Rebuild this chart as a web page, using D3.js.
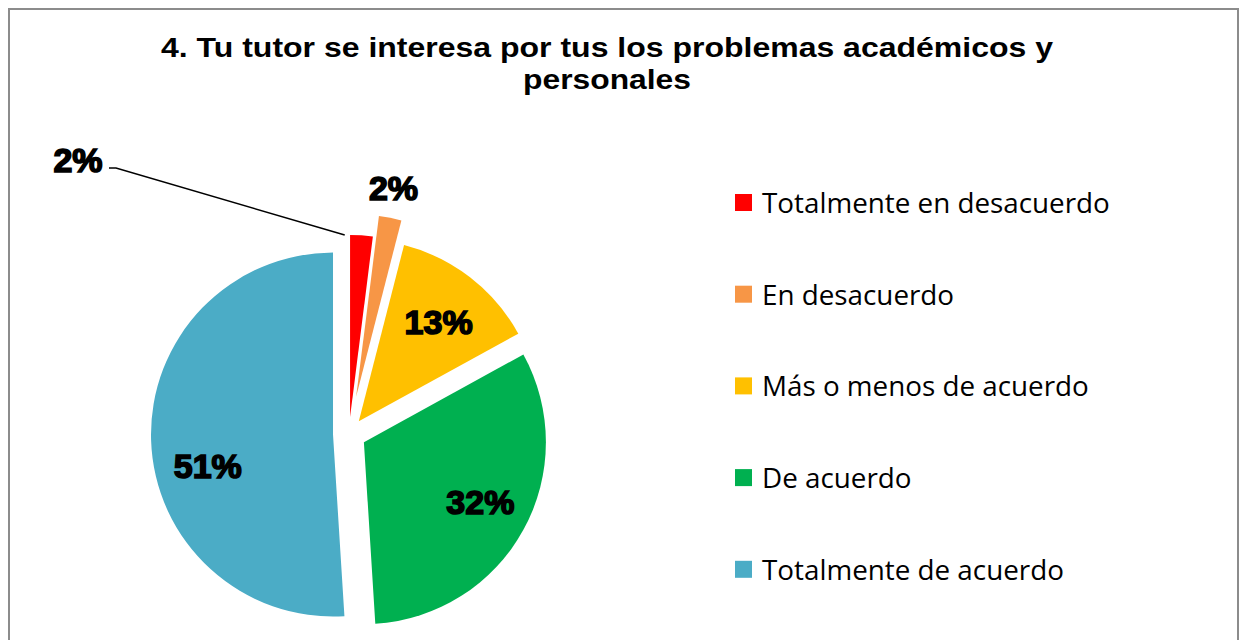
<!DOCTYPE html>
<html>
<head>
<meta charset="utf-8">
<script src="https://cdn.jsdelivr.net/npm/d3@7"></script>
<style>
  body { margin: 0; background: #fff; }
  svg { display: block; }
</style>
</head>
<body>
<div id="chart"></div>
<script>
// answers, in the order they go round the pie (clockwise from 12 o'clock)
var categories = [
  "Totalmente en desacuerdo",
  "En desacuerdo",
  "Más o menos de acuerdo",
  "De acuerdo",
  "Totalmente de acuerdo"
];
var values = [2, 2, 13, 32, 51];
var colors = ["#ff0000", "#f79646", "#ffc000", "#00b050", "#4bacc6"];
var titleLines = [
  "4. Tu tutor se interesa por tus los problemas académicos y",
  "personales"
];

var width = 1241, height = 640;
var cx = 349, cy = 434, radius = 182;
// how far each slice is pulled out of the centre
var explode = [17, 38, 16, 17, 16];
// inside labels: distance from slice centre and a small angle nudge (deg)
var labelR = [0, 0, 0.70, 0.72, 0.71];
var labelNudge = [0, 0, 1, -1.5, -12.5];

var svg = d3.select("#chart").append("svg")
  .attr("width", width)
  .attr("height", height);

// chart frame
svg.append("rect")
  .attr("x", 9).attr("y", 9)
  .attr("width", 1229).attr("height", 660)
  .attr("fill", "#fff")
  .attr("stroke", "#8c8c8c")
  .attr("stroke-width", 2);

var titleWidths = [892, 168];
svg.append("g")
  .attr("class", "title")
  .selectAll("text")
  .data(titleLines)
  .join("text")
  .attr("x", 607)
  .attr("y", (d, i) => 57 + i * 32)
  .attr("text-anchor", "middle")
  .attr("textLength", (d, i) => titleWidths[i])
  .attr("lengthAdjust", "spacingAndGlyphs")
  .style("font-family", "Liberation Sans, Arial, sans-serif")
  .style("font-weight", "bold")
  .style("font-size", "28px")
  .text(d => d);

var pie = d3.pie().sort(null).value(d => d);
var arcs = pie(values);
var arc = d3.arc().innerRadius(0).outerRadius(radius);

function offset(d, i) {
  var a = (d.startAngle + d.endAngle) / 2;
  return [explode[i] * Math.sin(a), -explode[i] * Math.cos(a)];
}

var slices = svg.append("g")
  .attr("transform", `translate(${cx},${cy})`);

slices.selectAll("path")
  .data(arcs)
  .join("path")
  .attr("transform", (d, i) => `translate(${offset(d, i)})`)
  .attr("d", arc)
  .attr("fill", (d, i) => colors[i]);

var labelStyle = function(sel) {
  sel.attr("text-anchor", "middle")
    .style("font-family", "Liberation Sans, Arial, sans-serif")
    .style("font-weight", "bold")
    .style("font-size", "34px")
    .attr("stroke", "#000")
    .attr("stroke-width", 1.6)
    .attr("fill", "#000");
};

// big slices get the label inside
slices.selectAll("text.inside")
  .data(arcs.filter(d => d.index > 1))
  .join("text")
  .attr("class", "inside")
  .attr("transform", d => {
    var i = d.index, o = offset(d, i);
    var a = (d.startAngle + d.endAngle) / 2 + labelNudge[i] * Math.PI / 180;
    var r = radius * labelR[i];
    return `translate(${o[0] + r * Math.sin(a)},${o[1] - r * Math.cos(a) + 12})`;
  })
  .call(labelStyle)
  .text(d => d.data + "%");

// orange one sits just outside its slice
var orange = arcs[1];
var oo = offset(orange, 1);
var outside = d3.arc().innerRadius(radius + 28).outerRadius(radius + 28);
var oc = outside.centroid(orange);
slices.append("text")
  .attr("x", oc[0] + oo[0] - 2)
  .attr("y", oc[1] + oo[1] + 10)
  .call(labelStyle)
  .text(orange.data + "%");

// red one is far out on the left with a leader line
var red = arcs[0];
var ro = offset(red, 0);
var tip = [ro[0] + radius * Math.sin(red.startAngle + 0.02) - 9, ro[1] - radius * Math.cos(red.startAngle + 0.02)];
var labelPos = [78 - cx, 160 - cy];
slices.append("polyline")
  .attr("points", [[labelPos[0] + 31, labelPos[1] + 8], [labelPos[0] + 38, labelPos[1] + 8], tip].map(p => p.join(",")).join(" "))
  .attr("fill", "none")
  .attr("stroke", "#000")
  .attr("stroke-width", 1.5);
slices.append("text")
  .attr("x", labelPos[0])
  .attr("y", labelPos[1] + 12)
  .call(labelStyle)
  .text(red.data + "%");

// legend
var legend = svg.append("g")
  .attr("transform", "translate(735,203)");
var row = legend.selectAll("g")
  .data(categories)
  .join("g")
  .attr("transform", (d, i) => `translate(0,${i * 91.7})`);
row.append("rect")
  .attr("x", 0).attr("y", -9)
  .attr("width", 17).attr("height", 17)
  .attr("fill", (d, i) => colors[i]);
row.append("text")
  .attr("x", 27)
  .attr("y", 10)
  .style("font-family", "Open Sans, sans-serif")
  .style("font-size", "27.8px")
  .attr("fill", "#000")
  .text(d => d);
</script>
</body>
</html>
